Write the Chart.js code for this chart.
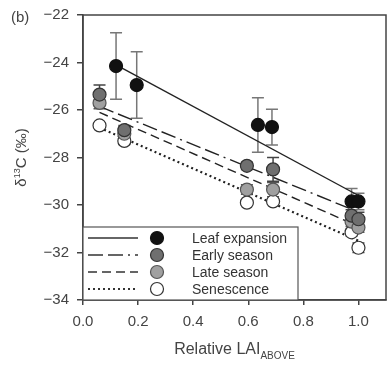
<!DOCTYPE html>
<html>
<head>
<meta charset="utf-8">
<style>
  html, body { margin: 0; padding: 0; background: #fff; }
  #wrap { position: relative; width: 388px; height: 365px; }
</style>
<script src="https://cdn.jsdelivr.net/npm/chart.js@4.4.1/dist/chart.umd.min.js"></script>
</head>
<body>
<div id="wrap"><canvas id="chart" width="388" height="365"></canvas></div>
<script>
// axis ticks
const xTicks = [0, 0.2, 0.4, 0.6, 0.8, 1.0];
const yTicks = [-34, -32, -30, -28, -26, -24, -22];

// series (relative LAI above, d13C, +/- error)
const leafX = [0.12, 0.195, 0.635, 0.686, 0.975, 1.0];
const leafY = [-24.15, -24.95, -26.63, -26.72, -29.85, -29.85];
const leafErr = [1.4, 1.4, 1.15, 0.75, 0.55, 0.35];

const earlyX = [0.06, 0.15, 0.595, 0.69, 0.975, 1.0];
const earlyY = [-25.35, -26.85, -28.35, -28.5, -30.45, -30.6];
const earlyErr = [0.4, 0.2, 0.15, 0.5, 0.25, 0.3];

const lateX = [0.06, 0.15, 0.595, 0.69, 0.975, 1.0];
const lateY = [-25.7, -27.0, -29.35, -29.35, -30.7, -30.95];
const lateErr = [0.25, 0.3, 0.2, 0.3, 0.2, 0.2];

const senX = [0.06, 0.15, 0.595, 0.69, 0.975, 1.0];
const senY = [-26.65, -27.3, -29.9, -29.85, -31.15, -31.8];
const senErr = [0.1, 0.15, 0.1, 0.1, 0.15, 0.2];

// regression lines (end points)
const leafFitX = [0.12, 1.0], leafFitY = [-24.1, -29.6];
const earlyFitX = [0.06, 1.0], earlyFitY = [-25.85, -30.3];
const lateFitX = [0.06, 1.0], lateFitY = [-26.1, -30.9];
const senFitX = [0.06, 1.0], senFitY = [-26.75, -31.5];

const labels = ['Leaf expansion', 'Early season', 'Late season', 'Senescence'];

const pts = (xs, ys) => xs.map((x, i) => ({ x: x, y: ys[i] }));
const minus = v => String(v).replace('-', '\u2212');

const styles = [
  { fill: '#111111', stroke: '#111111', dash: [], bar: '#777777' },
  { fill: '#6f6f6f', stroke: '#333333', dash: [15, 5, 15, 5, 2, 5], bar: '#444444' },
  { fill: '#a0a0a0', stroke: '#555555', dash: [9, 5], bar: '#555555' },
  { fill: '#ffffff', stroke: '#333333', dash: [2, 3], bar: '#444444' }
];

const fits = [[leafFitX, leafFitY], [earlyFitX, earlyFitY], [lateFitX, lateFitY], [senFitX, senFitY]];
const series = [[leafX, leafY, leafErr], [earlyX, earlyY, earlyErr], [lateX, lateY, lateErr], [senX, senY, senErr]];

const datasets = [];
fits.forEach((f, i) => {
  datasets.push({
    type: 'line',
    label: labels[i] + ' fit',
    data: pts(f[0], f[1]),
    borderColor: '#222',
    borderWidth: i === 3 ? 2.2 : 1.4,
    borderDash: styles[i].dash,
    pointRadius: 0,
    fill: false,
    order: 10
  });
});
// draw senescence first so the darker points sit on top
[3, 2, 1, 0].forEach(i => {
  datasets.push({
    type: 'scatter',
    label: labels[i],
    data: pts(series[i][0], series[i][1]),
    err: series[i][2],
    barColor: styles[i].bar,
    backgroundColor: styles[i].fill,
    borderColor: styles[i].stroke,
    borderWidth: 1.2,
    pointRadius: 6.5,
    order: i + 1
  });
});

// error bars under the points
const errorBars = {
  id: 'errorBars',
  beforeDatasetsDraw(chart) {
    const { ctx, scales: { x, y } } = chart;
    ctx.save();
    chart.data.datasets.forEach(ds => {
      if (!ds.err) return;
      ctx.strokeStyle = ds.barColor;
      ctx.lineWidth = 1.5;
      ds.data.forEach((p, i) => {
        const e = ds.err[i];
        const px = x.getPixelForValue(p.x);
        const top = y.getPixelForValue(p.y + e);
        const bot = y.getPixelForValue(p.y - e);
        ctx.beginPath();
        ctx.moveTo(px, top); ctx.lineTo(px, bot);
        ctx.moveTo(px - 6, top); ctx.lineTo(px + 6, top);
        ctx.moveTo(px - 6, bot); ctx.lineTo(px + 6, bot);
        ctx.stroke();
      });
    });
    ctx.restore();
  }
};

// frame, legend box, axis titles, panel letter
const decor = {
  id: 'decor',
  afterDraw(chart) {
    const { ctx, chartArea: a } = chart;
    ctx.save();
    ctx.strokeStyle = '#444';
    ctx.lineWidth = 1.5;
    ctx.strokeRect(a.left, a.top, a.right - a.left, a.bottom - a.top);

    // legend
    const bx = a.left, by = a.bottom - 73, bw = 215, bh = 73;
    ctx.fillStyle = '#fff';
    ctx.fillRect(bx, by, bw, bh);
    ctx.strokeStyle = '#555';
    ctx.lineWidth = 1.2;
    ctx.strokeRect(bx, by, bw, bh);
    const rows = [by + 11, by + 28, by + 45, by + 62];
    labels.forEach((lab, i) => {
      const ry = rows[i];
      ctx.strokeStyle = '#333';
      ctx.lineWidth = i === 3 ? 2.2 : 1.4;
      ctx.setLineDash(styles[i].dash);
      ctx.beginPath();
      ctx.moveTo(bx + 5, ry); ctx.lineTo(bx + 55, ry);
      ctx.stroke();
      ctx.setLineDash([]);
      ctx.beginPath();
      ctx.arc(bx + 74, ry, 6.5, 0, Math.PI * 2);
      ctx.fillStyle = styles[i].fill;
      ctx.fill();
      ctx.lineWidth = 1.2;
      ctx.strokeStyle = styles[i].stroke;
      ctx.stroke();
      ctx.fillStyle = '#333';
      ctx.font = '14px "Liberation Sans", Arial, sans-serif';
      ctx.textBaseline = 'middle';
      ctx.textAlign = 'left';
      ctx.fillText(lab, bx + 109, ry + 1);
    });

    // x title with subscript
    ctx.fillStyle = '#444';
    ctx.textBaseline = 'alphabetic';
    const t1 = 'Relative LAI';
    ctx.font = '16px "Liberation Sans", Arial, sans-serif';
    const w1 = ctx.measureText(t1).width;
    ctx.font = '10px "Liberation Sans", Arial, sans-serif';
    const w2 = ctx.measureText('ABOVE').width;
    const cx = (a.left + a.right) / 2;
    const sx = cx - (w1 + w2) / 2;
    ctx.font = '16px "Liberation Sans", Arial, sans-serif';
    ctx.fillText(t1, sx, 354);
    ctx.font = '10px "Liberation Sans", Arial, sans-serif';
    ctx.fillText('ABOVE', sx + w1, 359);

    // y title: δ13C (‰)
    ctx.translate(26, (a.top + a.bottom) / 2);
    ctx.rotate(-Math.PI / 2);
    ctx.font = '15px "Liberation Sans", Arial, sans-serif';
    const p1 = '\u03B4', p3 = 'C (\u2030)';
    const a1 = ctx.measureText(p1).width, a3 = ctx.measureText(p3).width;
    ctx.font = '9px "Liberation Sans", Arial, sans-serif';
    const a2 = ctx.measureText('13').width;
    const ox = -(a1 + a2 + a3) / 2;
    ctx.font = '15px "Liberation Sans", Arial, sans-serif';
    ctx.fillText(p1, ox, 0);
    ctx.font = '9px "Liberation Sans", Arial, sans-serif';
    ctx.fillText('13', ox + a1, -6);
    ctx.font = '15px "Liberation Sans", Arial, sans-serif';
    ctx.fillText(p3, ox + a1 + a2, 0);
    ctx.restore();

    ctx.save();
    ctx.fillStyle = '#444';
    ctx.font = '15px "Liberation Sans", Arial, sans-serif';
    ctx.textBaseline = 'middle';
    ctx.fillText('(b)', 11, 18);
    ctx.restore();
  }
};

const tickFont = { family: '"Liberation Sans", Arial, sans-serif', size: 15 };

new Chart(document.getElementById('chart'), {
  type: 'scatter',
  data: { datasets: datasets },
  options: {
    responsive: false,
    animation: false,
    layout: { autoPadding: false, padding: { top: 15, right: 2, left: 0, bottom: 0 } },
    plugins: { legend: { display: false }, tooltip: { enabled: false } },
    scales: {
      x: {
        type: 'linear', min: 0, max: 1.1,
        afterBuildTicks: s => { s.ticks = xTicks.map(v => ({ value: v })); },
        afterFit: s => { s.height = 65; s.paddingLeft = 0; s.paddingRight = 0; },
        ticks: { font: tickFont, color: '#444', padding: 8, callback: v => v.toFixed(1) },
        grid: { drawOnChartArea: false, tickLength: 5, color: '#444', lineWidth: 1.5 },
        border: { color: '#444', width: 1.5 }
      },
      y: {
        type: 'linear', min: -34, max: -22,
        afterBuildTicks: s => { s.ticks = yTicks.map(v => ({ value: v })); },
        afterFit: s => { s.width = 83; s.paddingTop = 0; s.paddingBottom = 0; },
        ticks: { font: tickFont, color: '#444', padding: 8, callback: v => minus(v) },
        grid: { drawOnChartArea: false, tickLength: 6, color: '#444', lineWidth: 1.5 },
        border: { color: '#444', width: 1.5 }
      }
    }
  },
  plugins: [errorBars, decor]
});
</script>
</body>
</html>
